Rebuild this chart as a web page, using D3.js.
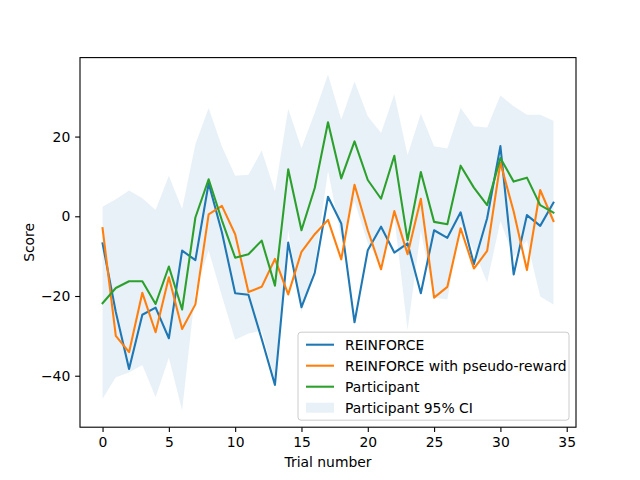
<!DOCTYPE html>
<html>
<head>
<meta charset="utf-8">
<script src="https://cdn.jsdelivr.net/npm/d3@7"></script>
<style>
  body { margin: 0; background: #fff; }
  text { font-family: "DejaVu Sans", sans-serif; }
</style>
</head>
<body>
<script>
// trial indices
const trials = [0, 1, 2, 3, 4, 5, 6, 7, 8, 9, 10, 11, 12, 13, 14, 15, 16, 17,
	18, 19, 20, 21, 22, 23, 24, 25, 26, 27, 28, 29, 30, 31, 32, 33, 34];

// scores
const reinforce = [-6.8, -24.0, -38.3, -24.7, -22.9, -30.6, -8.6, -11.0, 8.3, -4.0,
	-19.3, -19.7, -30.8, -42.3, -6.6, -22.8, -14.2, 4.9, -1.8, -26.6,
	-8.5, -2.6, -9.1, -6.8, -19.3, -3.5, -5.4, 1.0, -12.0, -0.5,
	17.6, -14.6, 0.3, -2.4, 3.4];
const pseudoReward = [-3.0, -30.0, -34.1, -19.2, -29.1, -15.3, -28.3, -22.1, 0.5, 2.6,
	-4.5, -19.0, -17.7, -10.7, -19.6, -8.9, -4.5, -0.9, -10.8, 7.9,
	-3.5, -13.3, 1.3, -9.5, 4.4, -20.4, -17.7, -3.0, -13.1, -8.7,
	13.4, 1.2, -13.5, 6.6, -1.2];
const participant = [-21.8, -18.0, -16.3, -16.3, -22.0, -12.6, -23.4, -0.3, 9.3, -1.0,
	-10.4, -9.5, -6.1, -17.4, 11.8, -3.5, 7.1, 23.6, 9.5, 18.8,
	9.1, 4.4, 15.2, -6.0, 11.1, -1.4, -2.0, 12.7, 7.2, 2.8,
	14.6, 8.7, 9.7, 2.8, 0.9];
const ciUpper = [2.4, 4.3, 6.5, 4.5, 1.6, 10.2, 1.8, 18.1, 27.2, 17.5,
	10.2, 10.4, 16.5, 6.2, 27.0, 17.1, 26.0, 35.6, 24.3, 33.8,
	25.1, 20.9, 30.6, 15.4, 25.7, 17.6, 17.0, 27.2, 22.6, 22.3,
	30.3, 27.6, 25.5, 25.5, 24.0];
const ciLower = [-45.8, -40.4, -39.2, -37.3, -45.4, -35.5, -48.7, -18.7, -8.6, -20.0,
	-31.0, -29.4, -28.7, -41.0, -3.5, -24.1, -12.5, 11.4, -5.5, 3.8,
	-6.7, -12.1, -0.2, -28.5, -3.7, -20.4, -20.9, -1.8, -8.5, -16.6,
	-1.2, -10.2, -6.1, -20.1, -22.1];

const xTicks = [0, 5, 10, 15, 20, 25, 30, 35];
const yTicks = [-40, -20, 0, 20];

const width = 640, height = 480;
const margin = { left: 80, right: 64, top: 57.6, bottom: 52.8 };

const svg = d3.select('body')
	.append('svg')
	.attr('width', width)
	.attr('height', height);

// matplotlib style 5% margins
const xExt = d3.extent(trials);
const xPad = (xExt[1] - xExt[0]) * 0.05;
const yMin = d3.min([d3.min(ciLower), d3.min(reinforce), d3.min(pseudoReward)]);
const yMax = d3.max([d3.max(ciUpper), d3.max(reinforce), d3.max(pseudoReward)]);
const yPad = (yMax - yMin) * 0.05;

const x = d3.scaleLinear()
	.domain([xExt[0] - xPad, xExt[1] + xPad])
	.range([margin.left, width - margin.right]);
const y = d3.scaleLinear()
	.domain([yMin - yPad, yMax + yPad])
	.range([height - margin.bottom, margin.top]);

const plot = svg.append('g');

// confidence band
const area = d3.area()
	.x((d, i) => x(trials[i]))
	.y0((d, i) => y(ciLower[i]))
	.y1((d, i) => y(ciUpper[i]));

plot.append('path')
	.datum(ciUpper)
	.attr('d', area)
	.attr('fill', '#1f77b4')
	.attr('fill-opacity', 0.1);

const series = [
	{ name: 'REINFORCE', values: reinforce, color: '#1f77b4' },
	{ name: 'REINFORCE with pseudo-reward', values: pseudoReward, color: '#ff7f0e' },
	{ name: 'Participant', values: participant, color: '#2ca02c' }
];

const line = d3.line()
	.x((d, i) => x(trials[i]))
	.y(d => y(d));

series.forEach(function (s) {
	plot.append('path')
		.datum(s.values)
		.attr('d', line)
		.attr('fill', 'none')
		.attr('stroke', s.color)
		.attr('stroke-width', 2.08)
		.attr('stroke-linejoin', 'round')
		.attr('stroke-linecap', 'square');
});

// axes
const xAxis = svg.append('g')
	.attr('transform', `translate(0,${height - margin.bottom})`)
	.call(d3.axisBottom(x).tickValues(xTicks).tickSize(4.86).tickPadding(4.86).tickFormat(d3.format('d')));
const yAxis = svg.append('g')
	.attr('transform', `translate(${margin.left},0)`)
	.call(d3.axisLeft(y).tickValues(yTicks).tickSize(4.86).tickPadding(4.86).tickFormat(d => d < 0 ? '\u2212' + Math.abs(d) : d));

[xAxis, yAxis].forEach(function (a) {
	a.select('.domain').remove();
	a.selectAll('line').attr('stroke', '#000').attr('stroke-width', 1.1);
	a.selectAll('text')
		.attr('fill', '#000')
		.style('font-size', '13.9px')
		.style('font-family', '"DejaVu Sans", sans-serif');
});

// frame
svg.append('rect')
	.attr('x', margin.left)
	.attr('y', margin.top)
	.attr('width', width - margin.left - margin.right)
	.attr('height', height - margin.top - margin.bottom)
	.attr('fill', 'none')
	.attr('stroke', '#000')
	.attr('stroke-width', 1.1);

svg.append('text')
	.attr('x', (margin.left + width - margin.right) / 2)
	.attr('y', 467)
	.attr('text-anchor', 'middle')
	.style('font-size', '13.9px')
	.text('Trial number');

svg.append('text')
	.attr('transform', `translate(34,${(margin.top + height - margin.bottom) / 2}) rotate(-90)`)
	.attr('text-anchor', 'middle')
	.style('font-size', '13.9px')
	.text('Score');

// legend, lower right
const legItems = series.map(s => ({ name: s.name, color: s.color, type: 'line' }));
legItems.push({ name: 'Participant 95% CI', color: '#1f77b4', type: 'patch' });

const legW = 271, legH = 88;
const legX = width - margin.right - 7 - legW;
const legY = height - margin.bottom - 7 - legH;

const legend = svg.append('g').attr('transform', `translate(${legX},${legY})`);
legend.append('rect')
	.attr('width', legW)
	.attr('height', legH)
	.attr('rx', 3)
	.attr('fill', '#fff')
	.attr('fill-opacity', 0.8)
	.attr('stroke', '#cccccc')
	.attr('stroke-width', 1);

legItems.forEach(function (d, i) {
	const cy = 12.5 + i * 21;
	if (d.type === 'line') {
		legend.append('line')
			.attr('x1', 8).attr('x2', 36)
			.attr('y1', cy).attr('y2', cy)
			.attr('stroke', d.color)
			.attr('stroke-width', 2.08);
	} else {
		legend.append('rect')
			.attr('x', 8).attr('y', cy - 5)
			.attr('width', 28).attr('height', 10)
			.attr('fill', d.color)
			.attr('fill-opacity', 0.1);
	}
	legend.append('text')
		.attr('x', 47)
		.attr('y', cy + 5)
		.style('font-size', '13.9px')
		.text(d.name);
});
</script>
</body>
</html>
